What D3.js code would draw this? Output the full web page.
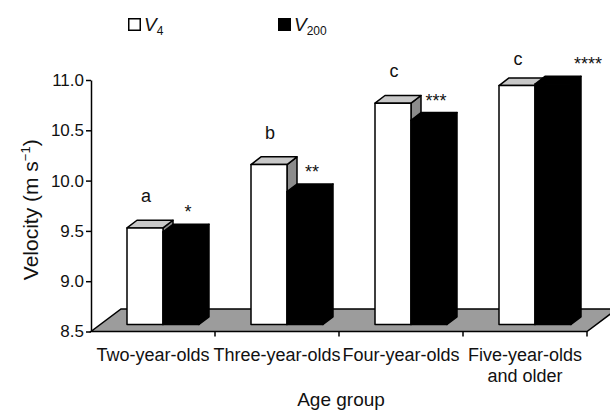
<!DOCTYPE html>
<html>
<head>
<meta charset="utf-8">
<script src="https://cdn.jsdelivr.net/npm/d3@7/dist/d3.min.js"></script>
<style>
  html, body { margin: 0; padding: 0; background: #fff; }
  svg { display: block; font-family: "Liberation Sans", Arial, Helvetica, sans-serif; }
</style>
</head>
<body>
<svg id="chart" width="610" height="412"></svg>
<script>
// Velocity by age group, two distances
const categories = ["Two-year-olds", "Three-year-olds", "Four-year-olds", "Five-year-olds\nand older"];
const seriesNames = ["V4", "V200"];
const v4Values = [9.46, 10.09, 10.70, 10.875];
const v200Values = [9.42, 9.82, 10.53, 10.89];
const groupLetters = ["a", "b", "c", "c"];
const sigMarks = ["*", "**", "***", "****"];
const yTickValues = [8.5, 9.0, 9.5, 10.0, 10.5, 11.0];

const svg = d3.select("#chart");

// plot frame (front plane of the floor)
const left = 91, right = 587, yBase = 331.5, yTopPx = 80;
const floorDepth = { dx: 30, dy: -22.5 };
const barShift = { dx: 10, dy: -7 };     // bars sit mid-way into the floor
const barDepth = { dx: 10, dy: -7.7 };

const y = d3.scaleLinear().domain([8.5, 11.0]).range([yBase, yTopPx]);
const x = d3.scaleBand().domain(categories).range([left, right]).paddingInner(0);
const sub = d3.scaleBand().domain(seriesNames)
  .range([26, x.bandwidth() - 26]).paddingInner(0);

const pts = a => a.map(p => p.join(",")).join(" ");

// floor
svg.append("polygon")
  .attr("points", pts([
    [left, yBase], [right, yBase],
    [right + floorDepth.dx, yBase + floorDepth.dy],
    [left + floorDepth.dx, yBase + floorDepth.dy]
  ]))
  .attr("fill", "#9c9c9c").attr("stroke", "#000").attr("stroke-width", 1.5)
  .attr("stroke-linejoin", "miter");

// category ticks along the floor front edge
svg.append("g").selectAll("line")
  .data(categories.map(c => x(c)).concat([right]).slice(1))
  .join("line")
  .attr("x1", d => d).attr("x2", d => d)
  .attr("y1", yBase).attr("y2", yBase + 5)
  .attr("stroke", "#000").attr("stroke-width", 1.5);

// y axis
const yAxis = svg.append("g")
  .attr("transform", `translate(${left},0)`)
  .call(d3.axisLeft(y).tickValues(yTickValues).tickFormat(d3.format(".1f"))
    .tickSize(5).tickSizeOuter(0).tickPadding(2));
yAxis.select(".domain").attr("stroke", "#000").attr("stroke-width", 1.5);
yAxis.selectAll(".tick line").attr("stroke", "#000").attr("stroke-width", 1.5);
yAxis.selectAll(".tick text")
  .attr("font-size", 17).attr("fill", "#111")
  .attr("font-family", "Liberation Sans, Arial, sans-serif");

// 3D bars
const styles = {
  V4:   { front: "#ffffff", top: "#c8c8c8", side: "#8c8c8c", stroke: "#000" },
  V200: { front: "#000000", top: "#000000", side: "#000000", stroke: "#000" }
};

function bar3d(g, x0, w, v, st) {
  const yt = y(v) + barShift.dy;
  const yb = y(8.5) + barShift.dy;
  const xa = x0 + barShift.dx;
  const ddx = barDepth.dx, ddy = barDepth.dy;
  const common = sel => sel.attr("stroke", st.stroke).attr("stroke-width", 1.5)
    .attr("stroke-linejoin", "round");
  g.append("polygon").attr("points", pts([[xa + w, yt], [xa + w + ddx, yt + ddy], [xa + w + ddx, yb + ddy], [xa + w, yb]]))
    .attr("fill", st.side).call(common);
  g.append("polygon").attr("points", pts([[xa, yt], [xa + ddx, yt + ddy], [xa + w + ddx, yt + ddy], [xa + w, yt]]))
    .attr("fill", st.top).call(common);
  g.append("rect").attr("x", xa).attr("y", yt).attr("width", w).attr("height", yb - yt)
    .attr("fill", st.front).call(common);
}

const bars = svg.append("g");
categories.forEach((c, i) => {
  const g = bars.append("g");
  bar3d(g, x(c) + sub("V4"), sub.bandwidth(), v4Values[i], styles.V4);
  bar3d(g, x(c) + sub("V200"), sub.bandwidth(), v200Values[i], styles.V200);
});

// group letters above the V4 bars
const sigNudge = [0, 0, 0, 28];
svg.append("g").selectAll("text")
  .data(categories)
  .join("text")
  .attr("x", (c, i) => x(c) + sub("V4") + barShift.dx + sub.bandwidth() / 2 + 1)
  .attr("y", (c, i) => Math.max(65, y(v4Values[i]) + barShift.dy - 26))
  .attr("text-anchor", "middle").attr("font-size", 18).attr("fill", "#111")
  .text((c, i) => groupLetters[i]);

// significance marks above the V200 bars
svg.append("g").selectAll("text")
  .data(categories)
  .join("text")
  .attr("x", (c, i) => x(c) + sub("V200") + barShift.dx + barDepth.dx + sub.bandwidth() / 2 - 3 + sigNudge[i])
  .attr("y", (c, i) => y(v200Values[i]) + barShift.dy + barDepth.dy - 6)
  .attr("text-anchor", "middle").attr("font-size", 18).attr("fill", "#111")
  .text((c, i) => sigMarks[i]);

// category labels
const catLabels = svg.append("g").selectAll("text")
  .data(categories)
  .join("text")
  .attr("text-anchor", "middle").attr("font-size", 18).attr("fill", "#111")
  .attr("transform", c => `translate(${x(c) + x.bandwidth() / 2},361)`);
catLabels.selectAll("tspan")
  .data(c => c.split("\n"))
  .join("tspan")
  .attr("x", 0).attr("dy", (d, j) => j === 0 ? 0 : 21)
  .text(d => d);

// axis titles
svg.append("text")
  .attr("x", (left + right) / 2 + 2).attr("y", 406)
  .attr("text-anchor", "middle").attr("font-size", 19).attr("fill", "#111")
  .text("Age group");

const yTitle = svg.append("text")
  .attr("transform", `translate(38,${(yBase + yTopPx) / 2 + 4}) rotate(-90)`)
  .attr("text-anchor", "middle").attr("font-size", 21).attr("fill", "#111");
yTitle.append("tspan").text("Velocity (m s");
yTitle.append("tspan").attr("dy", -8).attr("font-size", 13).text("\u22121");
yTitle.append("tspan").attr("dy", 8).text(")");

// legend
const legend = svg.append("g");
const legendItems = [
  { name: "V4", sub: "4", fill: "#fff", x: 128 },
  { name: "V200", sub: "200", fill: "#000", x: 278 }
];
legendItems.forEach(it => {
  const lg = legend.append("g").attr("transform", `translate(${it.x},18)`);
  lg.append("rect").attr("x", 0.75).attr("y", 0.75).attr("width", 11.5).attr("height", 11.5)
    .attr("fill", it.fill).attr("stroke", "#000").attr("stroke-width", 1.5);
  const t = lg.append("text").attr("x", 16).attr("y", 13)
    .attr("font-size", 19).attr("fill", "#111");
  t.append("tspan").attr("font-style", "italic").text("V");
  t.append("tspan").attr("dy", 4).attr("font-size", 12).text(it.sub);
});
</script>
</body>
</html>
